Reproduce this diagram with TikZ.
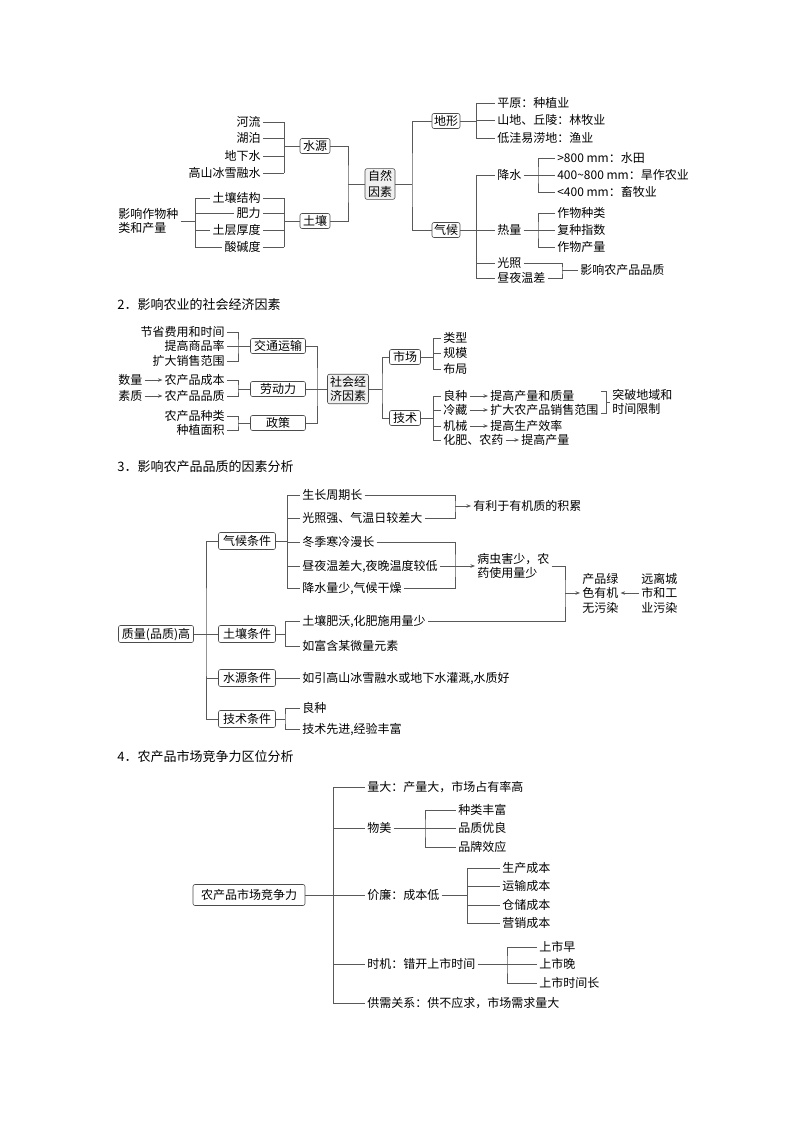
\documentclass[tikz,border=0pt]{standalone}
\usepackage{fontspec}
\setmainfont{Noto Sans CJK SC}
\usetikzlibrary{arrows.meta}

\tikzset{
  ln/.style={draw=black!65},
  arr/.style={-{Stealth[length=4.5pt,width=3.5pt]}},
  lf/.style={inner sep=2pt,text height=10.5pt,text depth=1.5pt},
  ml/.style={inner sep=2pt,align=left},
  bx/.style={draw=black!70,rounded corners=2pt,inner sep=1.5pt,minimum height=15pt,text height=10.5pt,text depth=1.5pt},
  bxg/.style={draw=black!70,rounded corners=2pt,inner sep=2pt,align=center,fill=black!6},
  tt/.style={inner sep=1pt,anchor=west,font=\fontsize{13}{15}\selectfont}
}

\begin{document}
\begin{tikzpicture}[x=1pt,y=-1pt,line width=0.6pt,font=\fontsize{12}{14.5}\selectfont]
    \useasboundingbox (0,0) rectangle (794,1123);

    % 1. natural factors
    \node[lf,anchor=east] (hl) at (263,122) {河流};
    \node[lf,anchor=east] (hp) at (263,138) {湖泊};
    \node[lf,anchor=east] (dxs) at (263,156) {地下水};
    \node[lf,anchor=east] (gs) at (263,173) {高山冰雪融水};
    \node[bx,minimum width=30pt] (sy) at (315,146) {水源};
    \coordinate (k1) at (284,146);
    \foreach \n in {hl,hp,dxs,gs} \draw[ln] (\n.east) -- (\n.east -| k1);
    \draw[ln] (hl.east -| k1) -- (gs.east -| k1);
    \draw[ln] (k1) -- (sy.west);

    \node[ml,anchor=west] (yx) at (116,221) {影响作物种\\类和产量};
    \node[lf,anchor=east] (jg) at (263,198) {土壤结构};
    \node[lf,anchor=east] (fl) at (263,213) {肥力};
    \node[lf,anchor=east] (hd) at (263,230) {土层厚度};
    \node[lf,anchor=east] (sj) at (263,247) {酸碱度};
    \node[bx,minimum width=30pt] (tr) at (315,221) {土壤};
    \coordinate (k2) at (195,221);
    \coordinate (k3) at (284,221);
    \draw[ln] (yx.east) -- (k2);
    \foreach \n in {jg,fl,hd,sj} \draw[ln] (\n.west -| k2) -- (\n.west) (\n.east) -- (\n.east -| k3);
    \draw[ln] (jg.west -| k2) -- (sj.west -| k2);
    \draw[ln] (jg.east -| k3) -- (sj.east -| k3);
    \draw[ln] (k3) -- (tr.west);

    \node[bxg,minimum width=30pt] (zr) at (380,184) {自然\\[1pt]因素};
    \coordinate (k4) at (348,184);
    \draw[ln] (sy.east) -| (k4) |- (tr.east);
    \draw[ln] (k4) -- (zr.west);

    \node[bx,minimum width=28pt] (dx) at (446,121) {地形};
    \node[bx,minimum width=28pt] (qh) at (446,230) {气候};
    \coordinate (k5) at (412,184);
    \draw[ln] (zr.east) -- (k5);
    \draw[ln] (dx.west) -| (k5) |- (qh.west);

    \node[lf,anchor=west] (py) at (495,103) {平原：种植业};
    \node[lf,anchor=west] (sd) at (495,120) {山地、丘陵：林牧业};
    \node[lf,anchor=west] (dw) at (495,138) {低洼易涝地：渔业};
    \coordinate (k6) at (476,121);
    \draw[ln] (dx.east) -- (k6);
    \foreach \n in {py,sd,dw} \draw[ln] (\n.west -| k6) -- (\n.west);
    \draw[ln] (py.west -| k6) -- (dw.west -| k6);

    \node[lf,anchor=west] (js) at (495,175) {降水};
    \node[lf,anchor=west] (rl) at (495,230) {热量};
    \node[lf,anchor=west] (gz) at (495,263) {光照};
    \node[lf,anchor=west] (zy) at (495,278) {昼夜温差};
    \coordinate (k7) at (476,230);
    \draw[ln] (qh.east) -- (k7);
    \foreach \n in {js,rl,gz,zy} \draw[ln] (\n.west -| k7) -- (\n.west);
    \draw[ln] (js.west -| k7) -- (zy.west -| k7);

    \node[lf,anchor=west] (j1) at (555,158) {>800 mm：水田};
    \node[lf,anchor=west] (j2) at (555,175) {400\textasciitilde800 mm：旱作农业};
    \node[lf,anchor=west] (j3) at (555,192) {<400 mm：畜牧业};
    \coordinate (k8) at (538,175);
    \draw[ln] (js.east) -- (j2.west);
    \draw[ln] (j1.west) -| (k8) |- (j3.west);

    \node[lf,anchor=west] (r1) at (555,213) {作物种类};
    \node[lf,anchor=west] (r2) at (555,230) {复种指数};
    \node[lf,anchor=west] (r3) at (555,247) {作物产量};
    \coordinate (k9) at (538,230);
    \draw[ln] (rl.east) -- (r2.west);
    \draw[ln] (r1.west) -| (k9) |- (r3.west);

    \node[lf,anchor=west] (pz) at (578,270) {影响农产品品质};
    \coordinate (k10) at (562,270);
    \draw[ln] (gz.east) -| (k10) |- (zy.east);
    \draw[ln] (k10) -- (pz.west);

    % 2. social and economic factors
    \node[tt] (t2) at (116,305) {2．影响农业的社会经济因素};

    \node[lf,anchor=east] (jsf) at (227,332) {节省费用和时间};
    \node[lf,anchor=east] (tg) at (227,346) {提高商品率};
    \node[lf,anchor=east] (kd) at (227,361) {扩大销售范围};
    \node[bx,minimum width=55pt] (jt) at (278,346) {交通运输};
    \coordinate (m1) at (238,346);
    \draw[ln] (jsf.east) -| (m1) |- (kd.east);
    \draw[ln] (tg.east) -- (jt.west);

    \node[lf,anchor=west] (sl) at (116,380) {数量};
    \node[lf,anchor=west] (sz) at (116,396) {素质};
    \node[lf,anchor=east] (cb) at (227,380) {农产品成本};
    \node[lf,anchor=east] (pzz) at (227,396) {农产品品质};
    \draw[ln,arr] (sl) -- (cb);
    \draw[ln,arr] (sz) -- (pzz);
    \node[bx,minimum width=55pt] (ldl) at (278,389) {劳动力};
    \coordinate (m2) at (238,389);
    \draw[ln] (cb.east) -| (m2) |- (pzz.east);
    \draw[ln] (m2) -- (ldl.west);

    \node[lf,anchor=east] (zl) at (227,416) {农产品种类};
    \node[lf,anchor=east] (mj) at (227,430) {种植面积};
    \node[bx,minimum width=55pt] (zc) at (278,423) {政策};
    \coordinate (m3) at (238,423);
    \draw[ln] (zl.east) -| (m3) |- (mj.east);
    \draw[ln] (m3) -- (zc.west);

    \node[bxg,minimum width=41pt] (sh) at (348,389) {社会经\\济因素};
    \coordinate (m4) at (317,389);
    \draw[ln] (jt.east) -| (m4) |- (zc.east);
    \draw[ln] (ldl.east) -- (sh.west);

    \node[bx,minimum width=31pt] (sc) at (405,357) {市场};
    \node[bx,minimum width=31pt] (jsh) at (405,418) {技术};
    \coordinate (m5) at (382,389);
    \draw[ln] (sh.east) -- (m5);
    \draw[ln] (sc.west) -| (m5) |- (jsh.west);

    \node[lf,anchor=west] (lx) at (441,338) {类型};
    \node[lf,anchor=west] (gm) at (441,353) {规模};
    \node[lf,anchor=west] (bj) at (441,369) {布局};
    \coordinate (m6) at (433,357);
    \draw[ln] (sc.east) -- (m6);
    \foreach \n in {lx,gm,bj} \draw[ln] (\n.west -| m6) -- (\n.west);
    \draw[ln] (lx.west -| m6) -- (bj.west -| m6);

    \node[lf,anchor=west] (lz) at (441,396) {良种};
    \node[lf,anchor=west] (lc) at (441,410) {冷藏};
    \node[lf,anchor=west] (jx) at (441,426) {机械};
    \node[lf,anchor=west] (hf) at (441,440) {化肥、农药};
    \coordinate (m7) at (433,418);
    \draw[ln] (jsh.east) -- (m7);
    \foreach \n in {lz,lc,jx,hf} \draw[ln] (\n.west -| m7) -- (\n.west);
    \draw[ln] (lz.west -| m7) -- (hf.west -| m7);

    \node[lf,anchor=west] (cz) at (488,396) {提高产量和质量};
    \node[lf,anchor=west] (xs) at (488,410) {扩大农产品销售范围};
    \node[lf,anchor=west] (xl) at (488,426) {提高生产效率};
    \node[lf,anchor=west] (cl) at (519,440) {提高产量};
    \draw[ln,arr] (lz) -- (cz);
    \draw[ln,arr] (lc) -- (xs);
    \draw[ln,arr] (jx) -- (xl);
    \draw[ln,arr] (hf) -- (cl);

    \coordinate (q1) at (601,391);
    \coordinate (q2) at (601,413);
    \coordinate (q3) at (606,402);
    \node[ml,anchor=west] (tp) at (610,402) {突破地域和\\时间限制};
    \draw[ln] (q1) -- (q1 -| q3) -- (q2 -| q3) -- (q2);
    \draw[ln] (q3) -- (tp.west);

    % 3. quality
    \node[tt] (t3) at (116,467) {3．影响农产品品质的因素分析};

    \node[bx,minimum width=75pt,minimum height=17pt] (zlg) at (156,634) {质量(品质)高};
    \node[bx,minimum width=57pt,minimum height=17pt] (qht) at (247,541) {气候条件};
    \node[bx,minimum width=57pt,minimum height=17pt] (trt) at (247,634) {土壤条件};
    \node[bx,minimum width=57pt,minimum height=17pt] (syt) at (247,678) {水源条件};
    \node[bx,minimum width=57pt,minimum height=17pt] (jst) at (247,719) {技术条件};
    \coordinate (n1) at (206,634);
    \draw[ln] (zlg.east) -- (trt.west);
    \draw[ln] (qht.west) -| (n1) |- (jst.west);
    \draw[ln] (syt.west) -- (syt.west -| n1);

    \node[lf,anchor=west] (a1) at (300,495) {生长周期长};
    \node[lf,anchor=west] (a2) at (300,518) {光照强、气温日较差大};
    \node[lf,anchor=west] (a3) at (300,542) {冬季寒冷漫长};
    \node[lf,anchor=west] (a4) at (300,566) {昼夜温差大,夜晚温度较低};
    \node[lf,anchor=west] (a5) at (300,588) {降水量少,气候干燥};
    \coordinate (n2) at (287,541);
    \draw[ln] (qht.east) -- (n2);
    \foreach \n in {a1,a2,a3,a4,a5} \draw[ln] (\n.west -| n2) -- (\n.west);
    \draw[ln] (a1.west -| n2) -- (a5.west -| n2);

    \node[lf,anchor=west] (yj) at (471,506) {有利于有机质的积累};
    \coordinate (n3) at (455,506);
    \draw[ln] (a1.east) -| (n3) |- (a2.east);
    \draw[ln,arr] (n3) -- (yj.west);

    \node[ml,anchor=west,font=\fontsize{12}{13.5}\selectfont] (bc) at (475,566) {病虫害少，农\\药使用量少};
    \coordinate (n4) at (455,566);
    \draw[ln] (a3.east) -| (n4) |- (a5.east);
    \draw[ln,arr] (a4.east) -- (bc.west);

    \node[lf,anchor=west] (tf) at (300,621) {土壤肥沃,化肥施用量少};
    \node[lf,anchor=west] (wl) at (300,646) {如富含某微量元素};
    \coordinate (n6) at (285,634);
    \draw[ln] (trt.east) -- (n6);
    \foreach \n in {tf,wl} \draw[ln] (\n.west -| n6) -- (\n.west);
    \draw[ln] (tf.west -| n6) -- (wl.west -| n6);

    \node[ml,anchor=west] (lv) at (580,593) {产品绿\\色有机\\无污染};
    \node[ml,anchor=west] (yl) at (639,593) {远离城\\市和工\\业污染};
    \coordinate (n5) at (565,593);
    \draw[ln] (bc.east) -| (n5) |- (tf.east);
    \draw[ln,arr] (n5) -- (lv.west);
    \draw[ln,arr] (yl.west) -- (lv.east);

    \node[lf,anchor=west] (gg) at (300,678) {如引高山冰雪融水或地下水灌溉,水质好};
    \draw[ln] (syt.east) -- (gg.west);

    \node[lf,anchor=west] (lz3) at (300,708) {良种};
    \node[lf,anchor=west] (xj) at (300,729) {技术先进,经验丰富};
    \coordinate (n7) at (285,719);
    \draw[ln] (jst.east) -- (n7);
    \draw[ln] (lz3.west) -| (n7) |- (xj.west);

    % 4. competitiveness
    \node[tt] (t4) at (116,757) {4．农产品市场竞争力区位分析};

    \node[bx,minimum width=112pt,minimum height=21pt] (jz) at (249,895) {农产品市场竞争力};
    \node[lf,anchor=west] (b1) at (365,787) {量大：产量大，市场占有率高};
    \node[lf,anchor=west] (b2) at (365,828) {物美};
    \node[lf,anchor=west] (b3) at (365,895) {价廉：成本低};
    \node[lf,anchor=west] (b4) at (365,964) {时机：错开上市时间};
    \node[lf,anchor=west] (b5) at (365,1003) {供需关系：供不应求，市场需求量大};
    \coordinate (p1) at (333,895);
    \draw[ln] (jz.east) -- (b3.west);
    \foreach \n in {b1,b2,b4,b5} \draw[ln] (\n.west -| p1) -- (\n.west);
    \draw[ln] (b1.west -| p1) -- (b5.west -| p1);

    \node[lf,anchor=west] (c1) at (456,810) {种类丰富};
    \node[lf,anchor=west] (c2) at (456,828) {品质优良};
    \node[lf,anchor=west] (c3) at (456,847) {品牌效应};
    \coordinate (p2) at (425,828);
    \draw[ln] (b2.east) -- (c2.west);
    \draw[ln] (c1.west) -| (p2) |- (c3.west);

    \node[lf,anchor=west] (d1) at (500,868) {生产成本};
    \node[lf,anchor=west] (d2) at (500,886) {运输成本};
    \node[lf,anchor=west] (d3) at (500,905) {仓储成本};
    \node[lf,anchor=west] (d4) at (500,923) {营销成本};
    \coordinate (p3) at (467,895);
    \draw[ln] (b3.east) -- (p3);
    \foreach \n in {d1,d2,d3,d4} \draw[ln] (\n.west -| p3) -- (\n.west);
    \draw[ln] (d1.west -| p3) -- (d4.west -| p3);

    \node[lf,anchor=west] (e1) at (537,947) {上市早};
    \node[lf,anchor=west] (e2) at (537,964) {上市晚};
    \node[lf,anchor=west] (e3) at (537,983) {上市时间长};
    \coordinate (p4) at (507,964);
    \draw[ln] (b4.east) -- (e2.west);
    \draw[ln] (e1.west) -| (p4) |- (e3.west);
\end{tikzpicture}
\end{document}
